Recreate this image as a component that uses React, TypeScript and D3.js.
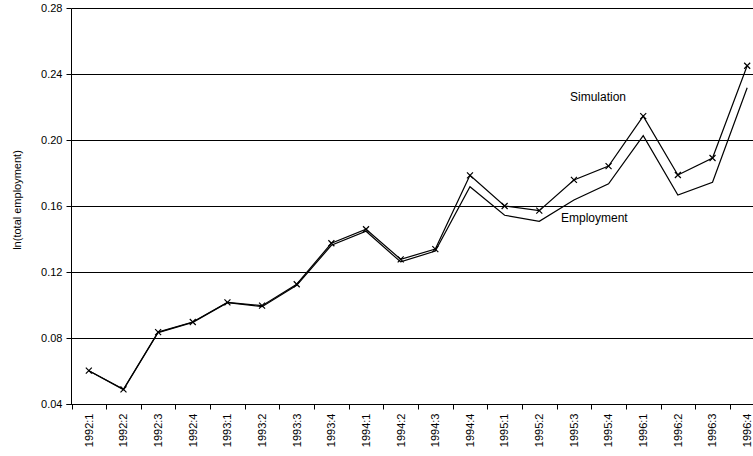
import React from "react";
import * as d3 from "d3";

const categories = [
  "1992:1", "1992:2", "1992:3", "1992:4",
  "1993:1", "1993:2", "1993:3", "1993:4",
  "1994:1", "1994:2", "1994:3", "1994:4",
  "1995:1", "1995:2", "1995:3", "1995:4",
  "1996:1", "1996:2", "1996:3", "1996:4",
];
const simulation = [
  0.0605, 0.0492, 0.0839, 0.09, 0.1019, 0.0999, 0.1129, 0.1377, 0.1462, 0.128,
  0.1342, 0.1789, 0.1603, 0.1575, 0.1761, 0.1845, 0.2148, 0.1791, 0.1894, 0.2453,
];
const employment = [
  0.0605, 0.049, 0.0836, 0.0898, 0.1017, 0.0993, 0.1122, 0.1365, 0.145, 0.1264,
  0.133, 0.172, 0.1547, 0.151, 0.1639, 0.1738, 0.2029, 0.167, 0.1747, 0.232,
];
const yTicks = [0.04, 0.08, 0.12, 0.16, 0.2, 0.24, 0.28];
const yTitle = "ln(total employment)";
const simLabel = "Simulation";
const empLabel = "Employment";

const W = 753;
const H = 456;
const FONT = "'Liberation Sans', Arial, sans-serif";

export default function App() {
  const left = 71.5;
  const step = 34.65;
  const x = d3
    .scaleBand<string>()
    .domain(categories)
    .range([left, left + step * categories.length])
    .paddingInner(0)
    .paddingOuter(0);
  const y = d3.scaleLinear().domain([0.04, 0.28]).range([404.5, 8.5]);
  const cx = (i: number) => (x(categories[i]) as number) + x.bandwidth() / 2;

  const line = d3
    .line<number>()
    .x((_, i) => cx(i))
    .y((d) => y(d));

  const bottom = y(0.04);
  const tickEdges = categories.map((c) => x(c) as number);

  return (
    <>
      <style>{"body{margin:0;overflow:hidden}"}</style>
      <svg width={W} height={H} style={{ display: "block", background: "#fff" }} fontFamily={FONT}>
        {/* grid lines */}
        {yTicks.slice(1).map((t) => (
          <line key={t} x1={left} x2={W + 20} y1={y(t)} y2={y(t)} stroke="#000" strokeWidth={1} />
        ))}
        {/* y axis */}
        <line x1={left} x2={left} y1={y(0.28)} y2={bottom} stroke="#000" strokeWidth={1} />
        {yTicks.map((t) => (
          <g key={"yt" + t}>
            <line x1={left - 5} x2={left} y1={y(t)} y2={y(t)} stroke="#000" strokeWidth={1} />
            <text x={left - 9} y={y(t)} dy="0.35em" textAnchor="end" fontSize={11} fill="#000">
              {t.toFixed(2)}
            </text>
          </g>
        ))}
        {/* x axis */}
        <line x1={left - 5} x2={W + 20} y1={bottom} y2={bottom} stroke="#000" strokeWidth={1} />
        {tickEdges.map((e, i) => (
          <line key={"xt" + i} x1={Math.round(e) + 0.5} x2={Math.round(e) + 0.5} y1={bottom} y2={bottom + 5} stroke="#000" strokeWidth={1} />
        ))}
        {categories.map((c, i) => (
          <text
            key={"xl" + c}
            transform={`translate(${cx(i)},${bottom + 9}) rotate(-90)`}
            textAnchor="end"
            dy="0.35em"
            fontSize={11}
            fill="#000"
          >
            {c}
          </text>
        ))}
        {/* y title */}
        <text
          transform={`translate(17,200) rotate(-90)`}
          textAnchor="middle"
          dy="0.35em"
          fontSize={11}
          fill="#000"
        >
          {yTitle}
        </text>
        {/* lines */}
        <path d={line(employment) || ""} fill="none" stroke="#000" strokeWidth={1.2} />
        <path d={line(simulation) || ""} fill="none" stroke="#000" strokeWidth={1.2} />
        {simulation.map((v, i) => (
          <path
            key={"m" + i}
            d={`M${cx(i) - 3},${y(v) - 3}L${cx(i) + 3},${y(v) + 3}M${cx(i) - 3},${y(v) + 3}L${cx(i) + 3},${y(v) - 3}`}
            stroke="#000"
            strokeWidth={1.2}
          />
        ))}
        {/* annotations */}
        <text x={570} y={101} fontSize={12} fill="#000">{simLabel}</text>
        <text x={561} y={222} fontSize={12} fill="#000">{empLabel}</text>
      </svg>
    </>
  );
}
